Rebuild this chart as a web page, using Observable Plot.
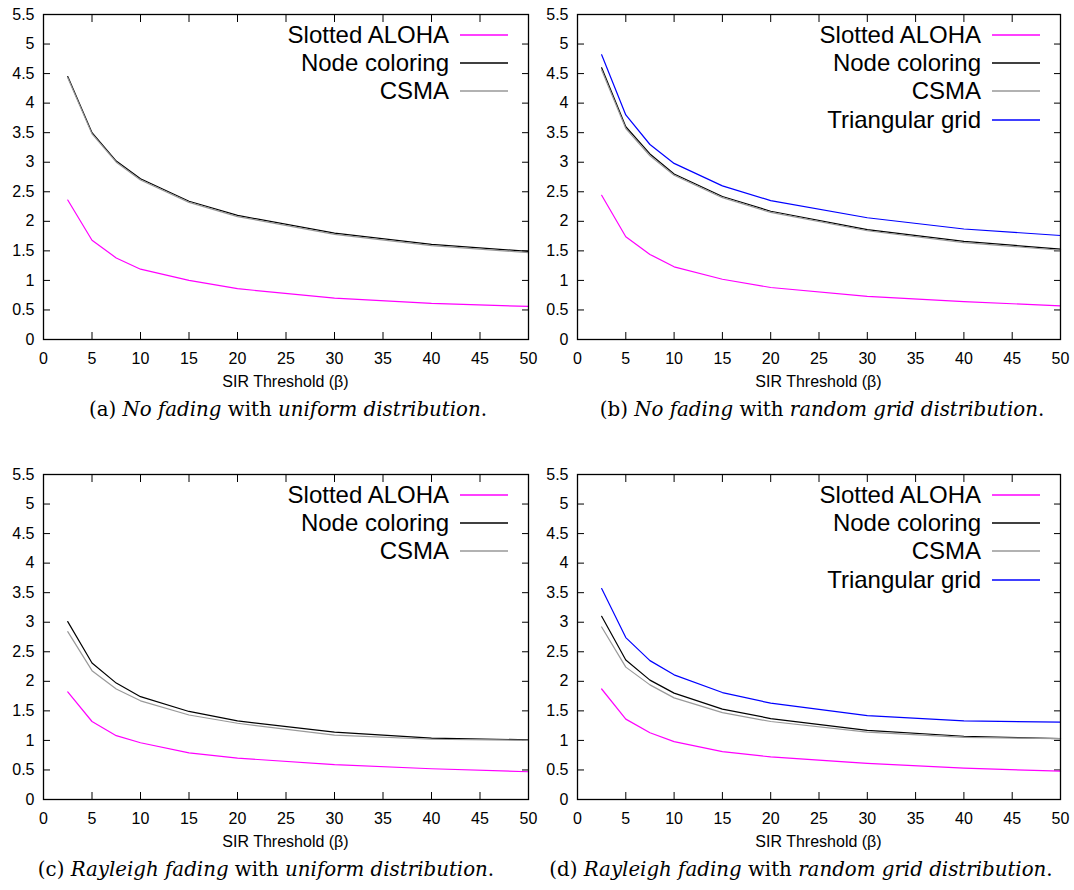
<!DOCTYPE html>
<html><head><meta charset="utf-8">
<script src="https://cdn.jsdelivr.net/npm/d3@7"></script>
<script src="https://cdn.jsdelivr.net/npm/@observablehq/plot@0.6"></script>
<style>
body{margin:0;background:#fff;}
#root{position:relative;width:1074px;height:890px;background:#fff;overflow:hidden;font-family:"Liberation Sans",Arial,sans-serif;color:#000;}
.panel{position:absolute;}
.legtxt{position:absolute;font-size:24px;white-space:nowrap;line-height:24px;text-align:right;}
.legsvg{position:absolute;overflow:visible;}
.xlab{position:absolute;font-size:16px;white-space:nowrap;text-align:center;line-height:16px;}
.cap{position:absolute;font-family:"DejaVu Serif",serif;font-size:19.8px;text-align:center;white-space:nowrap;line-height:20px;}
</style></head><body><div id="root"></div>
<script>
// SIR threshold values (x)
const beta = [2.5, 5, 7.5, 10, 15, 20, 30, 40, 50];
const xTicks = [0, 5, 10, 15, 20, 25, 30, 35, 40, 45, 50];
const yTicks = [0, 0.5, 1, 1.5, 2, 2.5, 3, 3.5, 4, 4.5, 5, 5.5];
const seriesNames = ["Slotted ALOHA", "Node coloring", "CSMA", "Triangular grid"];
const seriesColors = ["#ff00ff", "#000000", "#999999", "#0000ff"];

// (a) No fading, uniform distribution
const a_aloha = [2.36, 1.68, 1.38, 1.19, 1.00, 0.86, 0.70, 0.61, 0.56];
const a_node  = [4.45, 3.50, 3.02, 2.72, 2.34, 2.10, 1.80, 1.61, 1.49];
const a_csma  = [4.43, 3.48, 3.00, 2.70, 2.32, 2.08, 1.78, 1.59, 1.47];
// (b) No fading, random grid distribution
const b_aloha = [2.44, 1.74, 1.44, 1.23, 1.02, 0.88, 0.73, 0.64, 0.57];
const b_node  = [4.60, 3.60, 3.14, 2.80, 2.42, 2.17, 1.86, 1.66, 1.53];
const b_csma  = [4.56, 3.57, 3.11, 2.78, 2.40, 2.15, 1.84, 1.64, 1.51];
const b_tri   = [4.82, 3.80, 3.30, 2.98, 2.60, 2.35, 2.06, 1.87, 1.76];
// (c) Rayleigh fading, uniform distribution
const c_aloha = [1.82, 1.32, 1.08, 0.96, 0.79, 0.70, 0.59, 0.52, 0.47];
const c_node  = [3.01, 2.31, 1.97, 1.74, 1.49, 1.33, 1.14, 1.04, 1.01];
const c_csma  = [2.84, 2.18, 1.87, 1.67, 1.43, 1.29, 1.09, 1.02, 1.00];
// (d) Rayleigh fading, random grid distribution
const d_aloha = [1.87, 1.36, 1.13, 0.98, 0.81, 0.72, 0.61, 0.53, 0.48];
const d_node  = [3.10, 2.36, 2.02, 1.80, 1.53, 1.37, 1.17, 1.07, 1.03];
const d_csma  = [2.92, 2.24, 1.94, 1.72, 1.47, 1.32, 1.14, 1.05, 1.03];
const d_tri   = [3.57, 2.74, 2.35, 2.11, 1.81, 1.63, 1.42, 1.33, 1.31];

const xLabel = "SIR Threshold (β)";
const captions = [
  "(a) <i>No fading</i> with <i>uniform distribution</i>.",
  "(b) <i>No fading</i> with <i>random grid distribution</i>.",
  "(c) <i>Rayleigh fading</i> with <i>uniform distribution</i>.",
  "(d) <i>Rayleigh fading</i> with <i>random grid distribution</i>."
];

const root = document.getElementById("root");
const W = 537, H = 400, MT = 14, MB = 61;
const fmt = d => String(d);

function panel(left, top, mL, mR, valueLists, caption, capCenter) {
  const n = valueLists.length;
  const rows = [];
  valueLists.forEach((vals, k) => beta.forEach((b, i) => rows.push({beta: b, v: vals[i], name: seriesNames[k]})));
  const svg = Plot.plot({
    width: W, height: H, marginLeft: mL, marginRight: mR, marginTop: MT, marginBottom: MB,
    style: {fontFamily: "'Liberation Sans', Arial, sans-serif", fontSize: "16px", background: "transparent", color: "#000", overflow: "visible"},
    x: {domain: [0, 50]},
    y: {domain: [0, 5.5]},
    color: {domain: seriesNames.slice(0, n), range: seriesColors.slice(0, n)},
    marks: [
      Plot.axisX(xTicks, {anchor: "bottom", tickSize: 7, dy: -7, fill: "none", label: null}),
      Plot.axisX(xTicks, {anchor: "top", tickSize: 7, dy: 7, fill: "none", label: null}),
      Plot.axisY(yTicks, {anchor: "left", tickSize: 7, dx: 7, fill: "none", label: null}),
      Plot.axisY(yTicks, {anchor: "right", tickSize: 7, dx: -7, fill: "none", label: null}),
      Plot.axisX(xTicks, {anchor: "bottom", tickSize: 0, tickPadding: 13, fontSize: 16, tickFormat: fmt, label: null}),
      Plot.axisY(yTicks, {anchor: "left", tickSize: 0, tickPadding: 9, fontSize: 16, tickFormat: fmt, label: null}),
      Plot.line(rows, {x: "beta", y: "v", z: "name", stroke: "name", strokeWidth: 1.2}),
      Plot.frame({stroke: "#000", strokeWidth: 1.3})
    ]
  });
  const div = document.createElement("div");
  div.className = "panel";
  div.style.left = left + "px"; div.style.top = top + "px";
  div.appendChild(svg);
  root.appendChild(div);

  const frameL = left + mL, frameR = left + W - mR, frameB = top + H - MB;
  // legend
  const textRight = frameR - 79;
  for (let k = 0; k < n; k++) {
    const yc = top + MT + 20.7 + k * 28.3;
    const t = document.createElement("div");
    t.className = "legtxt";
    t.textContent = seriesNames[k];
    t.style.right = (1074 - textRight) + "px";
    t.style.top = (yc - 12) + "px";
    root.appendChild(t);
    const ls = d3.create("svg")
      .attr("class", "legsvg")
      .attr("width", 48).attr("height", 4)
      .style("left", (textRight + 11) + "px")
      .style("top", (yc - 2) + "px");
    ls.append("line")
      .attr("x1", 0).attr("x2", 48).attr("y1", 2).attr("y2", 2)
      .attr("stroke", seriesColors[k]).attr("stroke-width", 1.4);
    root.appendChild(ls.node());
  }
  const cx = (frameL + frameR) / 2;
  const xl = document.createElement("div");
  xl.className = "xlab";
  xl.textContent = xLabel;
  xl.style.left = (cx - 150) + "px"; xl.style.width = "300px";
  xl.style.top = (frameB + 34.5) + "px";
  root.appendChild(xl);
  const cp = document.createElement("div");
  cp.className = "cap";
  cp.innerHTML = caption;
  cp.style.left = (capCenter - 270) + "px"; cp.style.width = "540px";
  cp.style.top = (frameB + 61) + "px";
  root.appendChild(cp);
}

panel(0, 0, 43, 9, [a_aloha, a_node, a_csma], captions[0], 288);
panel(537, 0, 40, 14, [b_aloha, b_node, b_csma, b_tri], captions[1], 822);
panel(0, 460, 43, 9, [c_aloha, c_node, c_csma], captions[2], 266);
panel(537, 460, 40, 14, [d_aloha, d_node, d_csma, d_tri], captions[3], 801);
</script></body></html>
